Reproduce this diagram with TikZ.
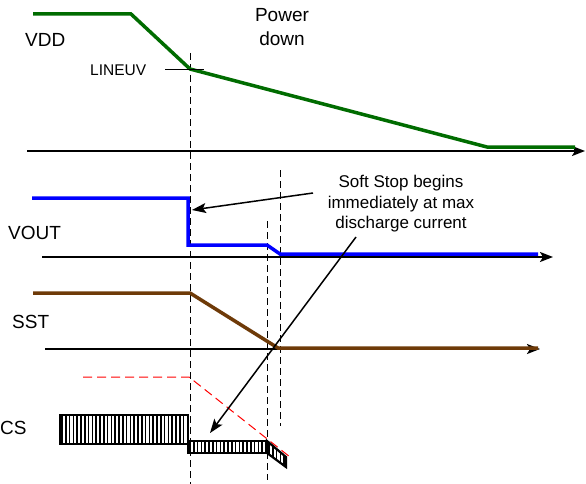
\documentclass[tikz,border=0pt]{standalone}
\usepackage{fontspec}
\setmainfont{Liberation Sans}
\usetikzlibrary{arrows.meta}
\definecolor{vddgreen}{RGB}{0,108,0}
\definecolor{sstbrown}{RGB}{110,58,8}
\begin{document}
\begin{tikzpicture}[x=1pt,y=-1pt,
    axis/.style={line width=2pt,-{Stealth[length=13pt,width=10pt,inset=3pt]}},
    wave/.style={line width=3.5pt},
    guide/.style={line width=0.8pt,dash pattern=on 7pt off 4pt},
    lbl/.style={anchor=base west,inner sep=0pt,font=\fontsize{19}{22}\selectfont},
    annarrow/.style={line width=1.5pt,-{Stealth[length=14pt,width=10pt,inset=3pt]}},
    hatch/.style={draw,line width=2.2pt,path picture={
        \foreach \i in {2,5.8,...,300}
          \draw[line width=1.6pt] ([xshift=\i pt]path picture bounding box.south west)
            -- ([xshift=\i pt]path picture bounding box.north west);}}]
\useasboundingbox (0,0) rectangle (586,484);
% time marks
\draw[guide] (190,53) -- (190,484);
\draw[guide] (267,221) -- (267,480);
\draw[guide] (280,170) -- (280,426);
% axes
\draw[axis] (27,151) -- (585,151);
\draw[axis] (42,257) -- (553,257);
\draw[axis] (45,349) -- (540,349);
% signals
\draw[wave,vddgreen] (33,14) -- (131,14) -- (190,69) -- (487,147) -- (575,147);
\draw[wave,blue] (32,198) -- (188,198) -- (188,245) -- (267,245) -- (280,254) -- (538,254);
\draw[wave,sstbrown] (33,293) -- (190,293) -- (278,348) -- (538,348);
\draw[red,line width=1pt,dash pattern=on 9pt off 5pt] (83,377) -- (189,377) -- (290,457);
\draw[hatch] (60,415) rectangle (188,444);
\draw[hatch] (188,441) rectangle (267,453);
\draw[hatch] (267,441) -- (286,457) -- (286,467) -- (267,453) -- cycle;
% labels
\node[lbl] (vdd) at (25,47) {VDD};
\node[lbl] (vout) at (8,239) {VOUT};
\node[lbl] (sst) at (12,328) {SST};
\node[lbl] (cs) at (0,434) {CS};
\node[lbl,font=\fontsize{15.5}{18}\selectfont] (lineuv) at (90,76) {LINEUV};
\draw[line width=0.8pt] (165,69) -- (204,69);
\node[anchor=north,inner sep=0pt,align=center,font=\fontsize{19}{24}\selectfont] (pd) at (282,8) {Power\\down};
\node[anchor=north,inner sep=0pt,align=center,font=\fontsize{17}{20.5}\selectfont] (note) at (401,175)
    {Soft Stop begins\\immediately at max\\discharge current};
\coordinate (fromA) at (313,193);
\coordinate (fromB) at (356,237);
\coordinate (drop) at (192,210);
\coordinate (csdrop) at (210,433);
\draw[annarrow] (fromA) -- (drop);
\draw[annarrow] (fromB) -- (csdrop);
\end{tikzpicture}
\end{document}
